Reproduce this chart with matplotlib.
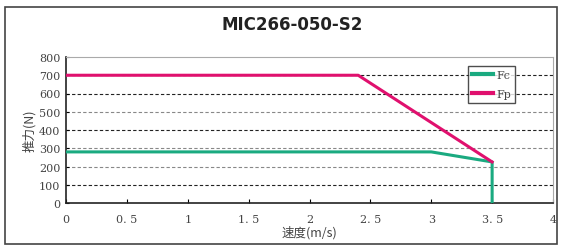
import matplotlib
matplotlib.use("Agg")
import matplotlib.pyplot as plt
from matplotlib.patches import Rectangle

plt.rcParams['font.family'] = ['Noto Sans CJK SC', 'DejaVu Sans']

# data
fc_speed = [0, 3.0, 3.5, 3.5]
fc_force = [280, 280, 225, 0]
fp_speed = [0, 2.4, 3.5]
fp_force = [700, 700, 225]

x_ticks = [0, 0.5, 1, 1.5, 2, 2.5, 3, 3.5, 4]
x_labels = ['0', '0. 5', '1', '1. 5', '2', '2. 5', '3', '3. 5', '4']
y_ticks = [0, 100, 200, 300, 400, 500, 600, 700, 800]
grid_dark = [100, 400, 600, 700]
grid_light = [200, 300, 500]

fig = plt.figure(figsize=(5.63, 2.53), dpi=100)
fig.patches.append(Rectangle((5/563, 8/253), 552/563, 237/253, transform=fig.transFigure,
                             fill=False, edgecolor='#444444', linewidth=1.2))

ax = fig.add_axes([66/563, 1 - 204/253, 487/563, 146/253])

for g in grid_dark:
    ax.axhline(g, color='#222222', linestyle=(0, (3, 2)), linewidth=0.8, zorder=1)
for g in grid_light:
    ax.axhline(g, color='#888888', linestyle=(0, (3, 2)), linewidth=0.8, zorder=1)

ax.plot(fc_speed, fc_force, color='#1aaa80', linewidth=2.2, label='Fc', zorder=3)
ax.plot(fp_speed, fp_force, color='#e0106e', linewidth=2.2, label='Fp', zorder=3)

ax.set_xlim(0, 4)
ax.set_ylim(0, 800)
ax.set_xticks(x_ticks)
ax.set_xticklabels(x_labels, fontfamily='serif', fontsize=8, color='#444444')
ax.set_yticks(y_ticks)
ax.set_yticklabels([str(v) for v in y_ticks], fontfamily='serif', fontsize=8, color='#444444')
ax.tick_params(axis='x', direction='in', length=3, pad=8)
ax.tick_params(axis='y', direction='in', length=2, pad=4)
for s in ['top', 'right']:
    ax.spines[s].set_color('#aaaaaa')
    ax.spines[s].set_linewidth(0.8)
for s in ['left', 'bottom']:
    ax.spines[s].set_color('#222222')
    ax.spines[s].set_linewidth(1.2)

ax.set_xlabel('速度(m/s)', fontsize=9, labelpad=1, color='#444444')
ax.set_ylabel('推力(N)', fontsize=9, labelpad=2, color='#444444')

leg = ax.legend(loc='upper right', bbox_to_anchor=(0.922, 0.935),
                prop={'family': 'serif', 'size': 8},
                frameon=True, fancybox=False, edgecolor='#222222', handlelength=1.9,
                borderpad=0.35, labelspacing=0.8, handletextpad=0.3, borderaxespad=0)
leg.get_frame().set_linewidth(1.0)
for t in leg.get_texts():
    t.set_color('#444444')
for h in leg.get_lines():
    h.set_linewidth(3)

fig.text(292/563, 1 - 25/253, 'MIC266-050-S2', ha='center', va='center',
         fontsize=12, fontweight='bold', fontfamily='DejaVu Sans', color='#222222')

fig.savefig('out.png', dpi=100)
